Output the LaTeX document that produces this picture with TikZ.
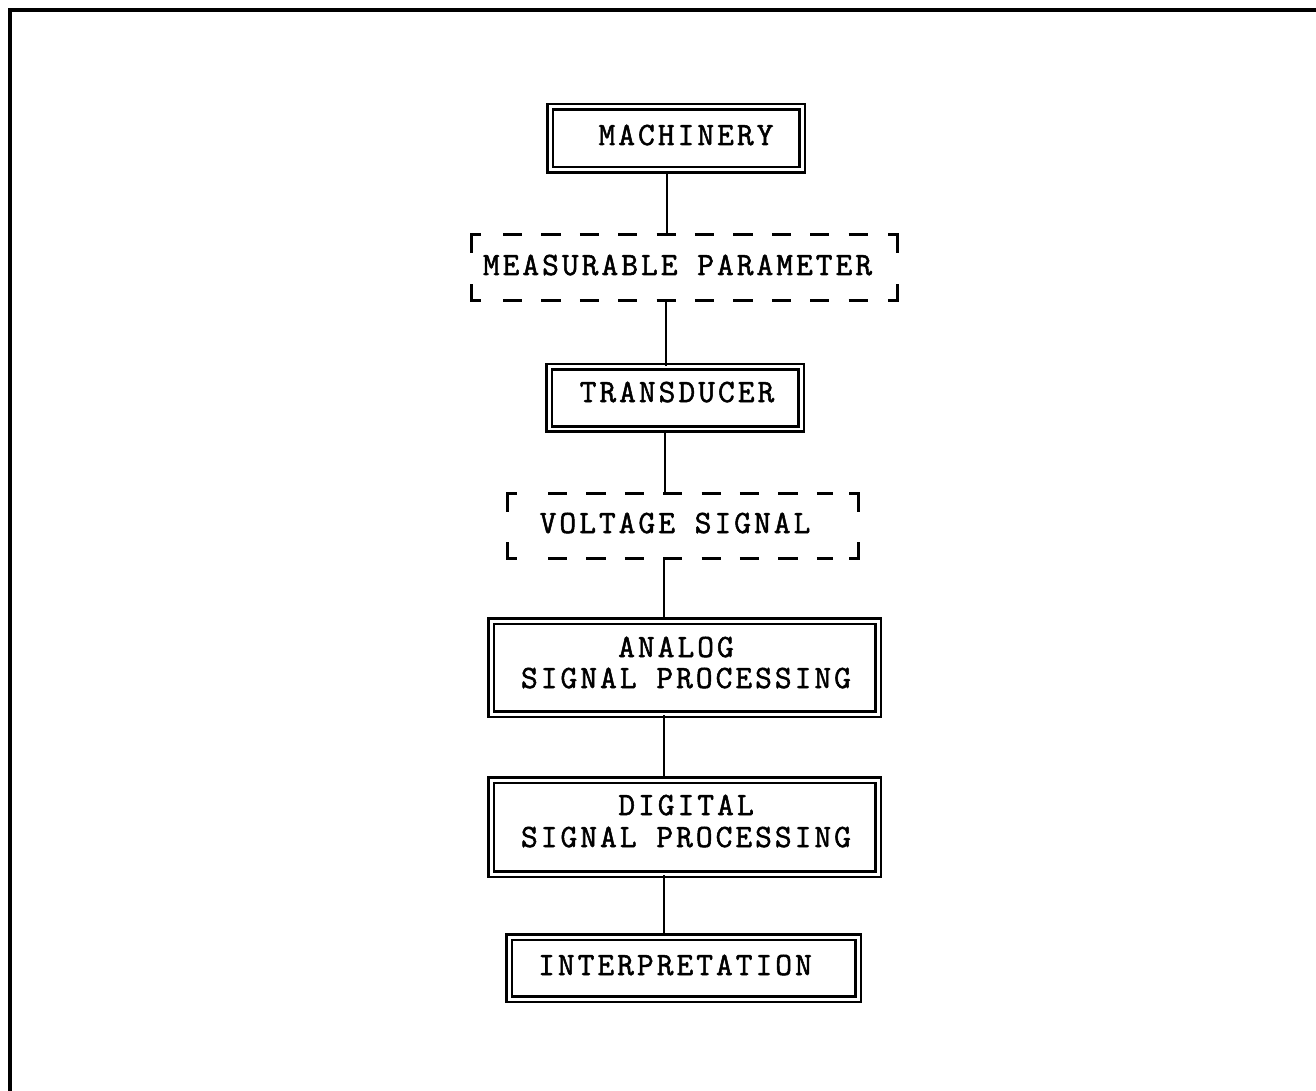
\documentclass[tikz,border=0pt]{standalone}
\usepackage{fontspec}
\usetikzlibrary{calc}
\newfontfamily\typefont[FakeBold=1.6,LetterSpace=9.3]{Latin Modern Mono}
\begin{document}
\begin{tikzpicture}[x=0.02cm,y=-0.02cm,
  dbox/.style={draw, double, line width=0.05cm, double distance=0.06cm, inner sep=0pt},
  lbl/.style={font=\typefont\fontsize{18.5}{22}\selectfont, anchor=base, inner sep=0pt,
    text height=1.4ex, text depth=0pt},
  conn/.style={line width=0.045cm},
  dashline/.style={line width=0.05cm},
  dashes/.style={line width=0.05cm, dash pattern=on 0.384cm off 0.384cm},
  hollow/.style={inner sep=0pt}]
\useasboundingbox (0,0) rectangle (1316,1091);
% frame
\draw[line width=0.065cm] (10,1091) -- (10,10) -- (1316,10);

% boxes
\node[dbox, minimum width=252*0.02cm, minimum height=63*0.02cm] (mach) at (676,138.5) {};
\node[lbl] (machT) at (686,145) {MACHINERY};

\node[hollow, minimum width=425*0.02cm, minimum height=65*0.02cm] (meas) at (684.5,267.5) {};
\node[lbl] (measT) at (677.5,275) {MEASURABLE PARAMETER};

\node[dbox, minimum width=252*0.02cm, minimum height=62*0.02cm] (trans) at (675,398) {};
\node[lbl] (transT) at (677,402) {TRANSDUCER};

\node[hollow, minimum width=350*0.02cm, minimum height=64*0.02cm] (volt) at (683,526) {};
\node[lbl] (voltT) at (675,533) {VOLTAGE SIGNAL};

\node[dbox, minimum width=387*0.02cm, minimum height=93*0.02cm] (ana) at (684.5,667.5) {};
\node[lbl] (anaT1) at (676,657) {ANALOG};
\node[lbl] (anaT2) at (686,688) {SIGNAL PROCESSING};

\node[dbox, minimum width=387*0.02cm, minimum height=94*0.02cm] (dig) at (684.5,827) {};
\node[lbl] (digT1) at (686,815) {DIGITAL};
\node[lbl] (digT2) at (686,847) {SIGNAL PROCESSING};

\node[dbox, minimum width=349*0.02cm, minimum height=62*0.02cm] (interp) at (683.5,968) {};
\node[lbl] (interpT) at (675,975) {INTERPRETATION};

% dashed bracket boxes
\foreach \b/\xa/\xb in {meas/503/868.6, volt/548/833}{
  \draw[dashline] ($(\b.north west)+(0,18)$) -- (\b.north west) -- ++(9,0);
  \draw[dashline] ($(\b.north east)+(0,18)$) -- (\b.north east) -- ++(-9,0);
  \draw[dashline] ($(\b.south west)+(0,-16)$) -- (\b.south west) -- ++(9,0);
  \draw[dashline] ($(\b.south east)+(0,-16)$) -- (\b.south east) -- ++(-9,0);
  \draw[dashes] (\b.north west -| \xa,0) -- (\b.north west -| \xb,0);
  \draw[dashes] (\b.south west -| \xa,0) -- (\b.south west -| \xb,0);
}

% connectors
\draw[conn] (mach.south -| 667,0) -- (meas.north -| 667,0);
\draw[conn] (meas.south -| 666,0) -- (trans.north -| 666,0);
\draw[conn] (trans.south -| 665,0) -- (volt.north -| 665,0);
\draw[conn] (volt.south -| 664,0) -- (ana.north -| 664,0);
\draw[conn] (ana.south -| 664,0) -- (dig.north -| 664,0);
\draw[conn] (dig.south -| 664,0) -- (interp.north -| 664,0);
\end{tikzpicture}
\end{document}
